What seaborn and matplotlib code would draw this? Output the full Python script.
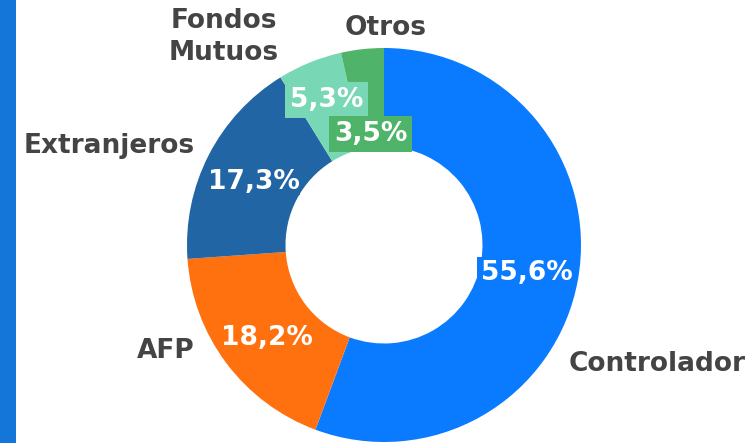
import matplotlib
matplotlib.use("Agg")
import matplotlib.pyplot as plt
import seaborn as sns
import numpy as np
from matplotlib.patches import Rectangle

sns.set_style("white")
plt.rcParams['font.family'] = ['DejaVu Sans']

categories = ["Controlador", "AFP", "Extranjeros", "Fondos\nMutuos", "Otros"]
values = [55.6, 18.2, 17.3, 5.3, 3.5]
pct_labels = ["55,6%", "18,2%", "17,3%", "5,3%", "3,5%"]
colors = ["#0a7bff", "#ff710e", "#2165a5", "#78d7b4", "#4fb46a"]

W, H = 754, 443
fig = plt.figure(figsize=(W / 100, H / 100), dpi=100)
ax = fig.add_axes([0, 0, 1, 1])

cx, cy, R = 384, H - 245, 197
wedges, _ = ax.pie(values, colors=colors, startangle=90, counterclock=False,
                   center=(cx, cy), radius=R, frame=True,
                   wedgeprops=dict(width=R * 0.5, edgecolor="none", linewidth=0))
ax.set_xlim(0, W)
ax.set_ylim(0, H)
ax.set_aspect("equal")
ax.axis("off")

# left accent bar
ax.add_patch(Rectangle((0, 0), 16, H, facecolor="#1476d8", edgecolor="none", zorder=5))

# percentage labels at 0.75 radius, with nudges for the small slices
nudge = {0: (-3, -2), 1: (1, -4), 2: (1, -4), 3: (-2, 8), 4: (3, -36)}
pads = {0: 0.12, 1: 0.02, 2: 0.02, 3: 0.18, 4: 0.18}
for i, w in enumerate(wedges):
    ang = np.deg2rad((w.theta1 + w.theta2) / 2)
    x = cx + 0.75 * R * np.cos(ang)
    y = cy + 0.75 * R * np.sin(ang)
    dx, dy = nudge.get(i, (0, 0))
    ax.text(x + dx, y + dy, pct_labels[i], ha="center", va="center", color="white",
            fontsize=19, fontweight="bold", zorder=10,
            bbox=dict(boxstyle=f"square,pad={pads[i]}", facecolor=colors[i], edgecolor="none"))

# category labels
label_pos = [(657, 364), (166, 351), (109, 146), (224, 37), (386, 28)]
for name, (x, y) in zip(categories, label_pos):
    ax.text(x, H - y, name, ha="center", va="center", color="#444444",
            fontsize=19, fontweight="bold", linespacing=1.3, zorder=10)

fig.savefig("out.png", dpi=100)
